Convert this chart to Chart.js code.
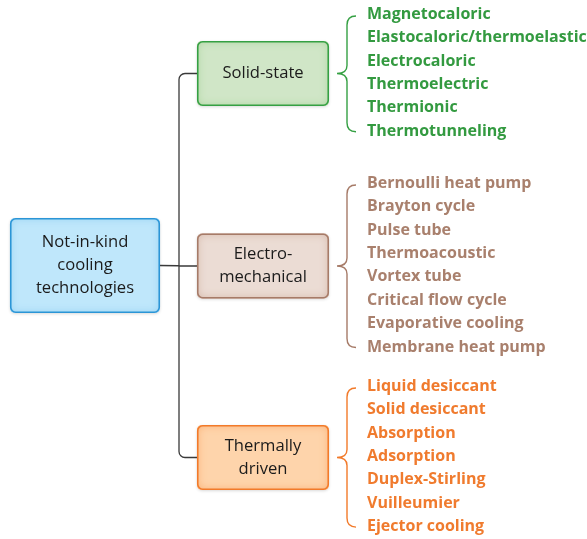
<!DOCTYPE html>
<html>
<head>
<meta charset="utf-8">
<script src="https://cdn.jsdelivr.net/npm/chart.js@4.4.1/dist/chart.umd.min.js"></script>
<style>
  html, body { margin: 0; padding: 0; background: #fff; }
  #wrap { width: 587px; height: 539px; position: relative; }
</style>
</head>
<body>
<div id="wrap"><canvas id="tree"></canvas></div>
<script>
// Tree content
const rootLabel = ['Not-in-kind', 'cooling', 'technologies'];
const groupLabels = [['Solid-state'], ['Electro-', 'mechanical'], ['Thermally', 'driven']];
const solidState = ['Magnetocaloric', 'Elastocaloric/thermoelastic', 'Electrocaloric',
    'Thermoelectric', 'Thermionic', 'Thermotunneling'];
const electroMech = ['Bernoulli heat pump', 'Brayton cycle', 'Pulse tube', 'Thermoacoustic',
    'Vortex tube', 'Critical flow cycle', 'Evaporative cooling', 'Membrane heat pump'];
const thermal = ['Liquid desiccant', 'Solid desiccant', 'Absorption', 'Adsorption',
    'Duplex-Stirling', 'Vuilleumier', 'Ejector cooling'];
const leafGroups = [solidState, electroMech, thermal];

// Layout (canvas-pixel units used as the axis range)
const W = 587, H = 539;
const rootPos = { x: 85, y: 265.5, w: 150, h: 95 };
const groupX = 263, groupW = 132, groupH = 65;
const groupY = [73.5, 266, 457.5];
const leafX = 367, rowStep = 23.35;
const leafFirstY = [14.5, 183.5, 386.5];
const trunkX = 179;

// Styles
const palette = [
    { text: '#339a40', border: '#35a043', fill: '#d0e6c7', edge: '#a9d49b' },
    { text: '#a9806d', border: '#a67b68', fill: '#ebdcd4', edge: '#d2b3a4' },
    { text: '#f07b2e', border: '#f27a2a', fill: '#fed4ab', edge: '#fbac70' }
];
const rootStyle = { border: '#2b95d6', fill: '#bfe7fb', edge: '#92cff2' };
const boxFont = '16.6px "Open Sans", sans-serif';
const leafFont = 'bold 16px "Open Sans", sans-serif';

const leafDatasets = leafGroups.map((items, g) => ({
    label: 'leaf' + g,
    data: items.map((name, i) => ({ x: leafX, y: leafFirstY[g] + i * rowStep })),
    pointRadius: 0
}));

function rrPath(ctx, x, y, w, h, r) {
    ctx.moveTo(x + r, y);
    ctx.arcTo(x + w, y, x + w, y + h, r);
    ctx.arcTo(x + w, y + h, x, y + h, r);
    ctx.arcTo(x, y + h, x, y, r);
    ctx.arcTo(x, y, x + w, y, r);
    ctx.closePath();
}

function drawBox(ctx, cx, cy, w, h, st, lines) {
    const x = cx - w / 2, y = cy - h / 2;
    // soft drop shadow + base fill
    ctx.save();
    ctx.shadowColor = 'rgba(0,0,0,0.15)';
    ctx.shadowBlur = 3;
    ctx.shadowOffsetY = 1;
    ctx.beginPath();
    rrPath(ctx, x, y, w, h, 5);
    ctx.fillStyle = st.fill;
    ctx.fill();
    ctx.restore();
    // inner glow towards the edges
    ctx.save();
    ctx.beginPath();
    rrPath(ctx, x, y, w, h, 5);
    ctx.clip();
    ctx.beginPath();
    ctx.rect(x - 40, y - 40, w + 80, h + 80);
    rrPath(ctx, x, y, w, h, 5);
    ctx.shadowColor = st.edge;
    ctx.shadowBlur = 10;
    ctx.fillStyle = st.edge;
    ctx.fill('evenodd');
    ctx.restore();
    // border
    ctx.beginPath();
    rrPath(ctx, x + 0.75, y + 0.75, w - 1.5, h - 1.5, 5);
    ctx.lineWidth = 1.6;
    ctx.strokeStyle = st.border;
    ctx.stroke();
    // text
    ctx.fillStyle = '#1b1b1b';
    ctx.font = boxFont;
    ctx.textAlign = 'center';
    ctx.textBaseline = 'middle';
    const lh = 23;
    lines.forEach((t, i) => {
        ctx.fillText(t, cx, cy + (i - (lines.length - 1) / 2) * lh);
    });
}

function drawBrace(ctx, xTip, yTip, yTop, yBot, color) {
    const xv = xTip + 10, xe = xTip + 19;
    ctx.beginPath();
    ctx.moveTo(xe, yTop);
    ctx.quadraticCurveTo(xv, yTop, xv, yTop + 9);
    ctx.lineTo(xv, yTip - 8);
    ctx.quadraticCurveTo(xv, yTip, xTip, yTip);
    ctx.quadraticCurveTo(xv, yTip, xv, yTip + 8);
    ctx.lineTo(xv, yBot - 9);
    ctx.quadraticCurveTo(xv, yBot, xe, yBot);
    ctx.strokeStyle = color;
    ctx.lineWidth = 1.4;
    ctx.stroke();
}

const treePlugin = {
    id: 'tree',
    afterDatasetsDraw(chart) {
        const ctx = chart.ctx;
        const xs = chart.scales.x, ys = chart.scales.y;
        const px = v => xs.getPixelForValue(v);
        const py = v => ys.getPixelForValue(v);

        // connectors
        const tx = px(trunkX), r = 6;
        const gLeft = px(groupX - groupW / 2);
        ctx.save();
        ctx.strokeStyle = '#3a3a3a';
        ctx.lineWidth = 1.3;
        ctx.beginPath();
        ctx.moveTo(gLeft, py(groupY[0]));
        ctx.lineTo(tx + r, py(groupY[0]));
        ctx.arcTo(tx, py(groupY[0]), tx, py(groupY[0]) + r, r);
        ctx.lineTo(tx, py(groupY[2]) - r);
        ctx.arcTo(tx, py(groupY[2]), tx + r, py(groupY[2]), r);
        ctx.lineTo(gLeft, py(groupY[2]));
        ctx.moveTo(px(rootPos.x + rootPos.w / 2), py(rootPos.y));
        ctx.lineTo(gLeft, py(groupY[1]));
        ctx.stroke();
        ctx.restore();

        // root box
        drawBox(ctx, px(rootPos.x), py(rootPos.y), rootPos.w, rootPos.h, rootStyle, rootLabel);

        // groups, braces and leaves
        leafGroups.forEach((items, g) => {
            const st = palette[g];
            drawBox(ctx, px(groupX), py(groupY[g]), groupW, groupH, st, groupLabels[g]);
            const pts = chart.getDatasetMeta(g).data;
            drawBrace(ctx, px(groupX + groupW / 2) + 8, py(groupY[g]),
                pts[0].y + 1.5, pts[pts.length - 1].y + 0.5, st.border);
            ctx.save();
            ctx.fillStyle = st.text;
            ctx.font = leafFont;
            ctx.textAlign = 'left';
            ctx.textBaseline = 'middle';
            items.forEach((t, i) => ctx.fillText(t, pts[i].x, pts[i].y));
            ctx.restore();
        });
    }
};

new Chart(document.getElementById('tree'), {
    type: 'scatter',
    data: { datasets: leafDatasets },
    options: {
        responsive: true,
        maintainAspectRatio: false,
        animation: false,
        layout: { padding: 0 },
        plugins: { legend: { display: false }, tooltip: { enabled: false } },
        scales: {
            x: { type: 'linear', min: 0, max: W, display: false },
            y: { type: 'linear', min: 0, max: H, reverse: true, display: false }
        }
    },
    plugins: [treePlugin]
});
</script>
</body>
</html>
